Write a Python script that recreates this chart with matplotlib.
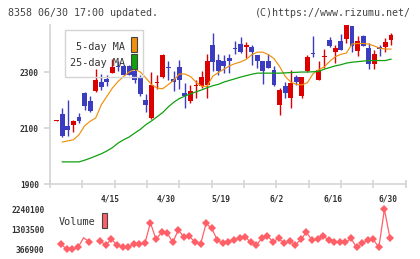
import numpy as np
import matplotlib
matplotlib.use("Agg")
import matplotlib.pyplot as plt
from matplotlib.patches import Rectangle

# ---------------- data ----------------
date_labels = ["4/15", "4/30", "5/19", "6/2", "6/16", "6/30"]
date_label_idx = [10, 20, 30, 40, 50, 60]

opens = [2126, 2150, 2108, 2112, 2138, 2225, 2195, 2231, 2264, 2276,
         2296, 2320, 2320, 2323, 2305, 2284, 2201, 2136, 2262, 2281,
         2318, 2276, 2318, 2225, 2197, 2250, 2249, 2252, 2397, 2344,
         2340, 2350, 2384, 2401, 2391, 2388, 2362, 2340, 2340, 2308,
         2183, 2251, 2209, 2284, 2216, 2305, 2365, 2270, 2353, 2415,
         2370, 2412, 2418, 2465, 2374, 2430, 2387, 2330, 2389, 2389,
         2415]
closes = [2128, 2072, 2092, 2124, 2124, 2180, 2159, 2272, 2245, 2263,
          2318, 2317, 2290, 2290, 2272, 2221, 2181, 2255, 2266, 2362,
          2313, 2266, 2270, 2216, 2234, 2254, 2284, 2340, 2336, 2302,
          2320, 2338, 2382, 2371, 2397, 2371, 2338, 2302, 2316, 2255,
          2237, 2225, 2261, 2264, 2282, 2355, 2363, 2306, 2355, 2394,
          2387, 2380, 2468, 2394, 2412, 2394, 2330, 2365, 2384, 2408,
          2433]
highs = [2129, 2171, 2201, 2130, 2154, 2227, 2215, 2312, 2294, 2290,
         2346, 2338, 2324, 2326, 2320, 2290, 2222, 2300, 2288, 2365,
         2340, 2302, 2344, 2261, 2255, 2272, 2302, 2365, 2439, 2364,
         2362, 2364, 2412, 2424, 2409, 2397, 2362, 2340, 2364, 2320,
         2243, 2266, 2308, 2290, 2284, 2362, 2430, 2340, 2382, 2425,
         2397, 2436, 2468, 2465, 2430, 2433, 2404, 2379, 2397, 2421,
         2439]
lows = [2125, 2068, 2072, 2084, 2118, 2165, 2158, 2229, 2237, 2249,
        2296, 2305, 2288, 2288, 2261, 2216, 2157, 2133, 2240, 2279,
        2273, 2231, 2240, 2171, 2189, 2207, 2243, 2209, 2302, 2290,
        2296, 2296, 2364, 2368, 2350, 2326, 2314, 2257, 2316, 2251,
        2147, 2209, 2171, 2255, 2209, 2300, 2354, 2270, 2314, 2391,
        2332, 2380, 2404, 2370, 2358, 2394, 2312, 2312, 2358, 2370,
        2397]

ma5 = [np.nan, 2050, 2054, 2058, 2076, 2108, 2124, 2136, 2183, 2213,
       2243, 2266, 2284, 2300, 2310, 2300, 2279, 2255, 2243, 2240,
       2255, 2270, 2293, 2293, 2284, 2264, 2249, 2249, 2285, 2298,
       2310, 2322, 2330, 2336, 2345, 2362, 2371, 2371, 2362, 2348,
       2320, 2285, 2264, 2256, 2254, 2262, 2294, 2308, 2318, 2338,
       2355, 2363, 2368, 2400, 2402, 2402, 2400, 2393, 2385, 2382,
       2382]
ma25 = [np.nan, 1979, 1979, 1979, 1979, 1985, 1992, 2000, 2008, 2018,
        2030, 2046, 2058, 2068, 2082, 2095, 2112, 2125, 2140, 2155,
        2175, 2192, 2205, 2214, 2222, 2229, 2236, 2244, 2251, 2256,
        2264, 2270, 2276, 2282, 2287, 2292, 2296, 2296, 2296, 2296,
        2296, 2297, 2298, 2299, 2300, 2300, 2301, 2302, 2310, 2316,
        2322, 2326, 2332, 2335, 2337, 2339, 2341, 2341, 2341, 2341,
        2346]

volume = [np.nan, 594000, 366900, 380000, 453000, 908000, 720000, np.nan, 751000, 563000,
          845000, 563000, 453000, 484000, 594000, 610000, 641000, 1613000, 829000, 1158000,
          1143000, 688000, 1268000, 955000, 986000, 688000, 610000, 1582000, 1347000, 798000,
          641000, 720000, 798000, 877000, 955000, 688000, 563000, 877000, 986000, 720000,
          877000, 641000, 751000, 563000, 829000, 1158000, 798000, 829000, 1002000, 798000,
          688000, 688000, 688000, 877000, 453000, 641000, 798000, 829000, 453000, 2240100,
          877000]
vol_ticks = [366900, 1303500, 2240100]
price_ticks = [1900, 2100, 2300]

# ---------------- styling ----------------
W, H = 420, 259
fig = plt.figure(figsize=(W / 100, H / 100), dpi=100)
MONO = "DejaVu Sans Mono"
RED = "#dd0000"
BLUE = "#3c3cc0"
ORANGE = "#f0900c"
GREEN = "#10a010"
VOLC = "#ff6068"
AXC = "#d4d4d4"
TICKC = "#333333"

def fx(px):
    return px / W

def fy(py):
    return 1 - py / H

x_left, x_right = 50, 405.7
n = len(opens)
idx = np.arange(n)
xmin, xmax = -1.208, 62.64

# price axes
ax = fig.add_axes([fx(x_left), fy(184), fx(x_right) - fx(x_left), fy(25) - fy(184)])
ax.set_xlim(xmin, xmax)
ax.set_ylim(1900, 2468)
for s in ["top", "right"]:
    ax.spines[s].set_visible(False)
for s in ["left", "bottom"]:
    ax.spines[s].set_color(AXC)
    ax.spines[s].set_linewidth(1.2)
ax.set_yticks(price_ticks)
ax.set_yticklabels([str(t) for t in price_ticks], fontfamily=MONO, fontsize=5.7,
                   fontweight="bold", color=TICKC)
ax.tick_params(axis="y", length=4, width=1.2, color=AXC, pad=4)
ax.set_xticks(np.linspace(xmin, xmax, 12))
ax.set_xticklabels([])
ax.tick_params(axis="x", direction="inout", length=6, width=1.2, color=AXC)
ax.patch.set_alpha(0)

o = np.array(opens, float)
c = np.array(closes, float)
hi = np.array(highs, float)
lo = np.array(lows, float)
up = c >= o
colors = np.where(up, RED, BLUE)
ax.vlines(idx, lo, hi, colors=colors, linewidth=1.0, zorder=3)
bottoms = np.minimum(o, c)
heights = np.maximum(np.abs(c - o), 3.6)
ax.bar(idx, heights, bottom=bottoms, width=0.88, color=colors, linewidth=0, zorder=4)
ax.plot(idx, ma5, color=ORANGE, linewidth=0.85, zorder=5)
ax.plot(idx, ma25, color=GREEN, linewidth=0.9, zorder=5)

for k, lab in zip(date_label_idx, date_labels):
    fig.text(fx(x_left + 5.571 * (k - xmin) - 2.5), fy(198.5), lab, fontfamily=MONO,
             fontsize=5.7, fontweight="bold", ha="center", va="center", color=TICKC)

# legend box for MAs
fig.patches.append(Rectangle((fx(65), fy(77.3)), fx(143.3) - fx(65), fy(30) - fy(77.3),
                             transform=fig.transFigure, fill=False, edgecolor=AXC,
                             linewidth=1.0, zorder=1))
fig.text(fx(125.5), fy(46.5), "5-day MA", fontfamily=MONO, fontsize=7.3, ha="right",
         va="center", color="#333333", zorder=1)
fig.text(fx(125.5), fy(63.3), "25-day MA", fontfamily=MONO, fontsize=7.3, ha="right",
         va="center", color="#333333", zorder=1)
fig.patches.append(Rectangle((fx(131.3), fy(52)), fx(6), fy(37.3) - fy(52),
                             transform=fig.transFigure, facecolor=ORANGE,
                             edgecolor="#444444", linewidth=0.8))
fig.patches.append(Rectangle((fx(131.3), fy(69.3)), fx(6), fy(54.3) - fy(69.3),
                             transform=fig.transFigure, facecolor=GREEN,
                             edgecolor="#444444", linewidth=0.8))

# volume axes
vpx = 1873200 / 39.7
vax = fig.add_axes([fx(x_left), fy(253), fx(x_right) - fx(x_left), fy(205) - fy(253)])
vax.set_xlim(xmin + 0.18, xmax + 0.18)
vax.set_ylim(366900 - 3.7 * vpx, 2240100 + 4.3 * vpx)
for s in vax.spines.values():
    s.set_visible(False)
vax.set_xticks([])
vax.set_yticks(vol_ticks)
vax.set_yticklabels([str(t) for t in vol_ticks], fontfamily=MONO, fontsize=5.7,
                    fontweight="bold", color=TICKC)
vax.tick_params(axis="y", length=0, pad=4)
vax.patch.set_alpha(0)
vol = np.array(volume, float)
vax.plot(idx, vol, color=VOLC, linewidth=0.9, zorder=3)
mk = vol.copy()
mk[5] = np.nan
vax.plot(idx, mk, linestyle="none", marker="D", markersize=4.4, color=VOLC,
         markeredgewidth=0, zorder=4)

fig.text(fx(58.5), fy(222.3), "Volume", fontfamily=MONO, fontsize=7.3, ha="left",
         va="center", color="#333333")
fig.patches.append(Rectangle((fx(101.7), fy(228.3)), fx(5.6), fy(212.7) - fy(228.3),
                             transform=fig.transFigure, facecolor=VOLC,
                             edgecolor="#444444", linewidth=0.8))

# header
fig.text(fx(8), fy(12.7), "8358 06/30 17:00 updated.", fontfamily=MONO, fontsize=7.2,
         ha="left", va="center", color="#444444")
fig.text(fx(410.5), fy(12.7), "(C)https://www.rizumu.net/", fontfamily=MONO, fontsize=7.2,
         ha="right", va="center", color="#444444")

fig.savefig("out.png", dpi=100)
